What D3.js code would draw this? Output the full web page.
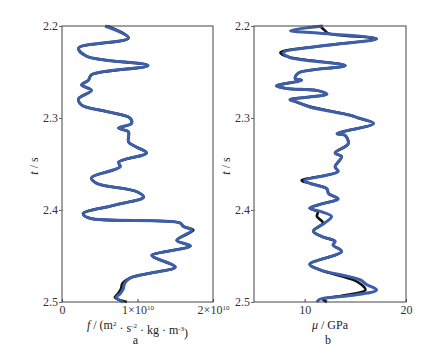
<!DOCTYPE html>
<html>
<head>
<meta charset="utf-8">
<script src="https://cdn.jsdelivr.net/npm/d3@7"></script>
<style>
  body { margin: 0; background: #fff; }
  svg text { font-family: "Liberation Serif", "DejaVu Serif", serif; }
</style>
</head>
<body>
<div id="chart"></div>
<script>
// panel a : f (x 1e10), true (black) and inverted (blue)
var tA = [2.200,2.213,2.224,2.233,2.243,2.253,2.259,2.264,2.270,2.279,2.286,2.293,2.300,2.306,2.311,
          2.315,2.326,2.331,2.338,2.348,2.353,2.365,2.371,2.380,2.386,2.395,2.404,2.409,2.414,2.418,
          2.422,2.433,2.439,2.449,2.451,2.462,2.468,2.474,2.480,2.486,2.491,2.495,2.500];
var fBlue = [0.57,0.88,0.22,0.33,1.14,0.39,0.35,0.26,0.39,0.22,0.26,0.59,0.90,0.92,0.75,
             0.88,0.88,0.97,1.12,0.75,0.77,0.39,0.46,0.99,1.08,0.68,0.28,0.37,1.56,1.61,
             1.72,1.52,1.70,1.19,1.21,1.50,1.21,0.90,0.83,0.81,0.77,0.72,0.81];
var fBlack = [0.60,0.88,0.22,0.33,1.14,0.39,0.35,0.26,0.39,0.22,0.26,0.59,0.90,0.92,0.75,
              0.88,0.88,0.97,1.12,0.75,0.77,0.39,0.46,0.99,1.08,0.68,0.28,0.37,1.56,1.61,
              1.74,1.52,1.70,1.19,1.21,1.50,1.21,0.90,0.80,0.78,0.74,0.70,0.86];

// panel b : mu (GPa)
var tB = [2.200,2.205,2.208,2.214,2.221,2.229,2.234,2.243,2.251,2.257,2.259,2.265,2.268,2.270,2.274,
          2.280,2.282,2.288,2.297,2.300,2.306,2.317,2.319,2.328,2.338,2.342,2.353,2.358,2.368,2.371,
          2.377,2.382,2.388,2.393,2.398,2.402,2.407,2.414,2.423,2.429,2.434,2.438,2.445,2.459,2.465,
          2.476,2.481,2.487,2.493,2.497,2.500];
var muBlue = [11.8,8.6,11.5,17.1,12.2,7.9,8.5,14.0,9.4,9.05,9.7,7.2,8.2,11.2,12.2,
              8.55,9.05,10.5,14.5,15.3,16.8,13.2,14.0,14.3,13.0,13.65,13.0,13.3,10.0,10.5,
              12.2,12.35,13.3,11.8,10.5,11.7,12.65,12.0,10.85,11.7,13.0,12.8,13.65,10.5,11.5,
              15.5,16.1,17.1,14.5,11.5,11.2];
var muBlack = [11.5,12.0,12.3,17.1,12.2,7.6,8.5,14.0,9.4,9.05,9.7,7.2,8.2,11.2,12.2,
               8.55,9.05,10.7,14.5,15.3,16.8,13.2,14.0,14.3,13.0,13.65,13.0,13.3,9.7,10.5,
               12.2,12.35,13.3,11.8,10.5,11.3,11.2,11.8,10.85,11.7,13.0,12.8,13.65,10.5,11.5,
               14.8,15.6,16.0,13.8,11.8,12.2];

var tTicks = [2.2, 2.3, 2.4, 2.5];

var W = 421, H = 350;
var svg = d3.select('#chart').append('svg').attr('width', W).attr('height', H);

var y = d3.scaleLinear().domain([2.2, 2.5]).range([26, 302]);

var panels = [
  {x: d3.scaleLinear().domain([0, 2]).range([62, 213]), ticks: [0, 1, 2],
   fmt: function(d){ return d === 0 ? ['0', ''] : [d + '×10', '10']; },
   t: tA, blue: fBlue, black: fBlack, letter: 'a'},
  {x: d3.scaleLinear().domain([5, 20]).range([254, 406]), ticks: [10, 20],
   fmt: function(d){ return [String(d), '']; },
   t: tB, blue: muBlue, black: muBlack, letter: 'b'}
];

panels.forEach(function(p){
  var x = p.x;
  var g = svg.append('g');
  var x0 = x.range()[0], x1 = x.range()[1];

  var line = d3.line()
    .x(function(d){ return x(d[1]); })
    .y(function(d){ return y(d[0]); })
    .curve(d3.curveCatmullRom.alpha(0.5));

  g.append('path').attr('d', line(d3.zip(p.t, p.black)))
    .attr('fill', 'none').attr('stroke', '#111').attr('stroke-width', 2.6)
    .attr('stroke-linejoin', 'round');
  g.append('path').attr('d', line(d3.zip(p.t, p.blue)))
    .attr('fill', 'none').attr('stroke', '#3d5ea8').attr('stroke-width', 3)
    .attr('stroke-linejoin', 'round');

  // frame
  g.append('rect').attr('x', x0).attr('y', y(2.2))
    .attr('width', x1 - x0).attr('height', y(2.5) - y(2.2))
    .attr('fill', 'none').attr('stroke', '#444').attr('stroke-width', 1);

  // y axis
  var ya = g.append('g').attr('transform', 'translate(' + x0 + ',0)')
    .call(d3.axisLeft(y).tickValues(tTicks).tickFormat(d3.format('.1f'))
      .tickSizeInner(3).tickSizeOuter(0).tickPadding(1));
  ya.select('.domain').remove();
  ya.selectAll('line').attr('stroke', '#666');
  ya.selectAll('text').attr('font-size', 12).attr('fill', '#333')
    .attr('font-family', '"Liberation Serif", serif');

  // x axis
  var xa = g.append('g').attr('transform', 'translate(0,' + y(2.5) + ')')
    .call(d3.axisBottom(x).tickValues(p.ticks).tickSizeInner(-3).tickSizeOuter(0).tickPadding(3));
  xa.select('.domain').remove();
  xa.selectAll('line').attr('stroke', '#444');
  xa.selectAll('text').attr('font-size', 12).attr('fill', '#333')
    .attr('font-family', '"Liberation Serif", serif')
    .each(function(d){
      var s = p.fmt(d), t = d3.select(this).text('');
      t.append('tspan').text(s[0]);
      if (s[1]) t.append('tspan').attr('font-size', 7).attr('dy', '-0.45em').text(s[1]);
    });

  // y title
  var yt = g.append('text')
    .attr('transform', 'translate(' + (x0 - 24) + ',' + 166 + ') rotate(-90)')
    .attr('text-anchor', 'middle').attr('font-size', 12).attr('fill', '#222');
  yt.append('tspan').attr('font-style', 'italic').text('t');
  yt.append('tspan').text(' / s');

  // x title
  var xt = g.append('text').attr('x', (x0 + x1) / 2).attr('y', 329)
    .attr('text-anchor', 'middle').attr('font-size', 12).attr('fill', '#222');
  if (p.letter === 'a') {
    xt.append('tspan').attr('font-style', 'italic').text('f');
    xt.append('tspan').text(' / (m');
    xt.append('tspan').attr('font-size', 7).attr('dy', '-0.5em').text('2');
    xt.append('tspan').attr('dy', '0.5em').text(' · s');
    xt.append('tspan').attr('font-size', 7).attr('dy', '-0.5em').text('-2');
    xt.append('tspan').attr('dy', '0.5em').text(' · kg · m');
    xt.append('tspan').attr('font-size', 7).attr('dy', '-0.5em').text('-3');
    xt.append('tspan').attr('dy', '0.5em').text(')');
  } else {
    xt.append('tspan').attr('font-style', 'italic').text('μ');
    xt.append('tspan').text(' / GPa');
  }

  g.append('text').attr('x', (x0 + x1) / 2 - 2).attr('y', 344)
    .attr('text-anchor', 'middle').attr('font-size', 12).attr('fill', '#222')
    .text(p.letter);
});
</script>
</body>
</html>
